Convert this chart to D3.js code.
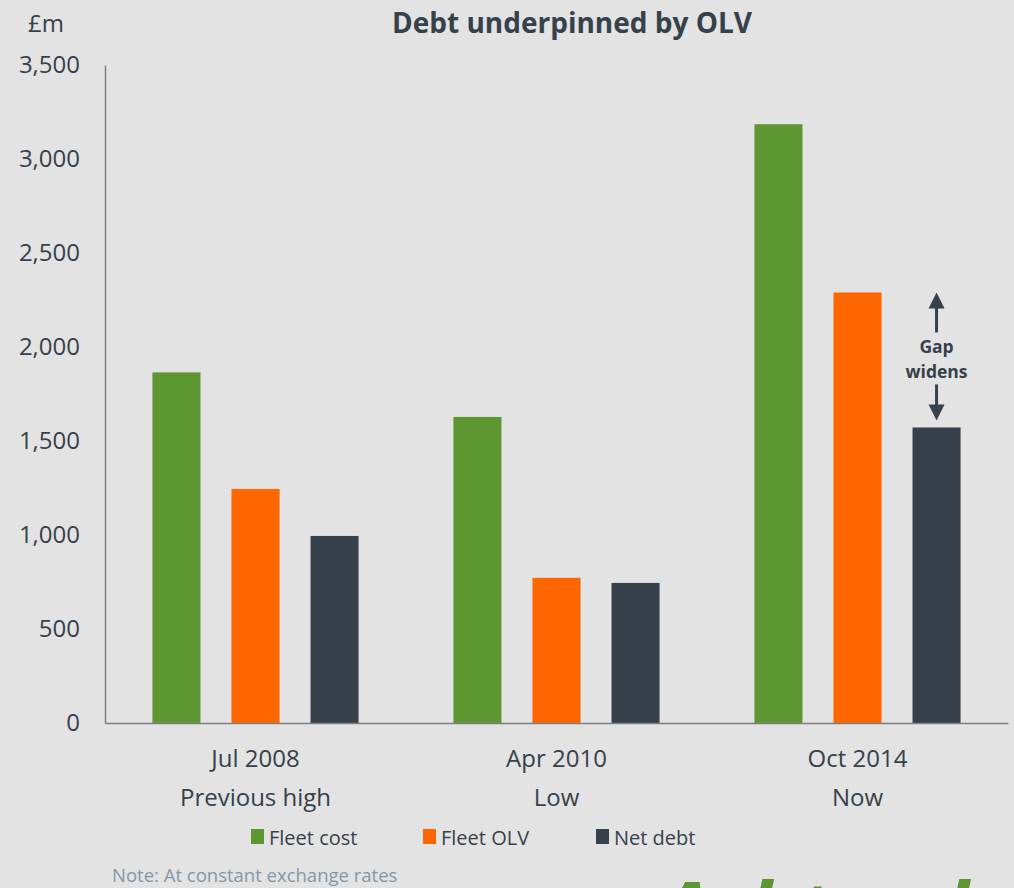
<!DOCTYPE html>
<html>
<head>
<meta charset="utf-8">
<script src="https://cdn.jsdelivr.net/npm/d3@7"></script>
<style>
  html, body { margin: 0; padding: 0; background: #e3e3e3; }
  svg { display: block; font-family: "Open Sans", "Noto Sans", sans-serif; }
</style>
</head>
<body>
<div id="chart"></div>
<script>
// Data
const dates = ['Jul 2008', 'Apr 2010', 'Oct 2014'];
const phases = ['Previous high', 'Low', 'Now'];
const seriesNames = ['Fleet cost', 'Fleet OLV', 'Net debt'];
const fleetCost = [1865, 1628, 3185];
const fleetOLV = [1245, 772, 2290];
const netDebt = [995, 745, 1572];
const yTicks = [0, 500, 1000, 1500, 2000, 2500, 3000, 3500];

const colors = ['#5e9732', '#ff6600', '#36414b'];
const textColor = '#36414b';

const width = 1014, height = 888;
const margin = { top: 65, right: 6, bottom: 165, left: 105 };

const svg = d3.select('#chart')
    .append('svg')
    .attr('width', width)
    .attr('height', height);

svg.append('rect')
    .attr('width', width)
    .attr('height', height)
    .attr('fill', '#e3e3e3');

const yScale = d3.scaleLinear()
    .domain([0, 3500])
    .range([height - margin.bottom, margin.top]);

const xScale = d3.scaleBand()
    .domain(dates)
    .range([margin.left, width - margin.right]);

const xSub = d3.scaleBand()
    .domain(seriesNames)
    .range([0, xScale.bandwidth()])
    .paddingInner(0.392)
    .paddingOuter(0.6);

const seriesValues = [fleetCost, fleetOLV, netDebt];

// Bars
dates.forEach((d, i) => {
    seriesNames.forEach((s, j) => {
        svg.append('rect')
            .attr('x', xScale(d) + xSub(s))
            .attr('y', yScale(seriesValues[j][i]))
            .attr('width', xSub.bandwidth())
            .attr('height', yScale(0) - yScale(seriesValues[j][i]))
            .attr('fill', colors[j]);
    });
});

// Y axis
const yAxis = svg.append('g')
    .attr('transform', `translate(${margin.left},0)`)
    .call(d3.axisLeft(yScale).tickValues(yTicks).tickSize(0).tickPadding(25)
        .tickFormat(d3.format(',')))
    .attr('font-family', null)
    .attr('font-size', null);
yAxis.select('.domain').attr('stroke', '#7f7f7f').attr('stroke-width', 1.5);
yAxis.selectAll('text')
    .attr('fill', textColor)
    .style('font-size', '24px');

// X axis line
const xAxis = svg.append('g')
    .attr('transform', `translate(0,${yScale(0)})`)
    .call(d3.axisBottom(xScale).tickSize(0).tickFormat(''));
xAxis.select('.domain').attr('stroke', '#7f7f7f').attr('stroke-width', 1.5);

// Category labels (two lines)
dates.forEach((d, i) => {
    const cx = xScale(d) + xScale.bandwidth() / 2;
    svg.append('text')
        .attr('x', cx)
        .attr('y', 767)
        .attr('text-anchor', 'middle')
        .attr('fill', textColor)
        .style('font-size', '24px')
        .text(d);
    svg.append('text')
        .attr('x', cx)
        .attr('y', 806)
        .attr('text-anchor', 'middle')
        .attr('fill', textColor)
        .style('font-size', '24px')
        .text(phases[i]);
});

// Title and unit
svg.append('text')
    .attr('x', 572)
    .attr('y', 33)
    .attr('text-anchor', 'middle')
    .attr('fill', textColor)
    .style('font-size', '28px')
    .style('font-weight', 'bold')
    .text('Debt underpinned by OLV');

svg.append('text')
    .attr('x', 28)
    .attr('y', 32)
    .attr('fill', textColor)
    .style('font-size', '24px')
    .text('£m');

// Legend
const legendX = [251, 423, 596];
seriesNames.forEach((s, j) => {
    svg.append('rect')
        .attr('x', legendX[j])
        .attr('y', 829)
        .attr('width', 13)
        .attr('height', 15)
        .attr('fill', colors[j]);
    svg.append('text')
        .attr('x', legendX[j] + 18)
        .attr('y', 845)
        .attr('fill', textColor)
        .style('font-size', '20px')
        .text(s);
});

// Note
svg.append('text')
    .attr('x', 112)
    .attr('y', 882)
    .attr('fill', '#8598a6')
    .style('font-size', '18.5px')
    .text('Note: At constant exchange rates');

// "Gap widens" annotation
const ax = xScale(dates[2]) + xSub(seriesNames[2]) + xSub.bandwidth() / 2;
const upTip = yScale(fleetOLV[2]);
const downTip = yScale(netDebt[2]) - 7;
const arrowGroup = svg.append('g').attr('fill', textColor).attr('stroke', textColor);
arrowGroup.append('line')
    .attr('x1', ax).attr('x2', ax)
    .attr('y1', upTip + 14).attr('y2', upTip + 40)
    .attr('stroke-width', 3);
arrowGroup.append('path')
    .attr('d', `M${ax},${upTip} L${ax - 8},${upTip + 16} L${ax + 8},${upTip + 16} Z`)
    .attr('stroke', 'none');
arrowGroup.append('line')
    .attr('x1', ax).attr('x2', ax)
    .attr('y1', downTip - 36).attr('y2', downTip - 14)
    .attr('stroke-width', 3);
arrowGroup.append('path')
    .attr('d', `M${ax},${downTip} L${ax - 8},${downTip - 16} L${ax + 8},${downTip - 16} Z`)
    .attr('stroke', 'none');

svg.append('text')
    .attr('x', ax)
    .attr('y', 353)
    .attr('text-anchor', 'middle')
    .attr('fill', textColor)
    .style('font-size', '17.5px')
    .style('font-weight', 'bold')
    .text('Gap');
svg.append('text')
    .attr('x', ax)
    .attr('y', 378)
    .attr('text-anchor', 'middle')
    .attr('fill', textColor)
    .style('font-size', '17.5px')
    .style('font-weight', 'bold')
    .text('widens');

// Cropped logo at bottom edge
svg.append('text')
    .attr('x', 660)
    .attr('y', 940)
    .attr('fill', '#5e9732')
    .style('font-size', '80px')
    .style('font-weight', 'bold')
    .style('font-style', 'italic')
    .text('Ashtead');
</script>
</body>
</html>
